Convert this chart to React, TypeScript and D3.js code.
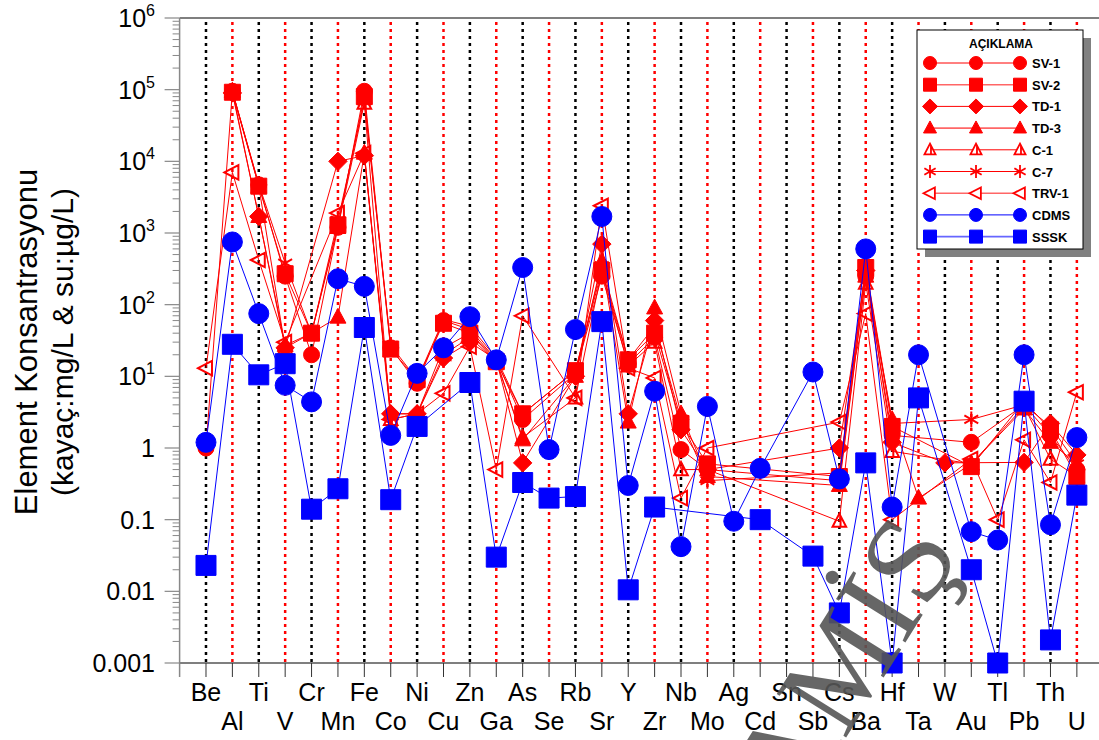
import React, { useEffect, useRef } from "react";
import * as d3 from "d3";

const elements = ["Be", "Al", "Ti", "V", "Cr", "Mn", "Fe", "Co", "Ni", "Cu", "Zn", "Ga", "As", "Se", "Rb", "Sr", "Y", "Zr", "Nb", "Mo", "Ag", "Cd", "Sn", "Sb", "Cs", "Ba", "Hf", "Ta", "W", "Au", "Tl", "Pb", "Th", "U"];

type V = number | null;
const sv1: V[] = [1, 95000, 4700, 250, 20, 1200, 95000, 25, 8, 60, 45, 17, 2.5, null, 11, 250, 15, 35, 0.95, 0.5, null, null, null, null, 0.35, 250, 1.5, null, null, 1.2, null, 4, 1.5, 0.5];
const sv2: V[] = [null, 92000, 4500, 270, 40, 1300, 80000, 24, 9, 55, 40, 16, 3, null, 12, 300, 17, 40, 2.2, 0.6, null, null, null, null, 0.4, 330, 2, null, null, 0.55, null, 4.5, 1.8, 0.4];
const td1: V[] = [null, 90000, 1700, 25, null, 10000, 12000, 3, 3, 18, 30, 17, 0.62, null, 10, 700, 3, 60, 1.8, 0.5, null, null, null, null, 1.0, 300, 1.2, null, 0.62, null, null, 0.63, 2.2, 0.8];
const td3: V[] = [null, 95000, 1700, 27, 40, 67, 13000, 3, 3, 25, 40, 17, 1.3, null, 10, 400, 2.3, 90, 3, 0.4, null, null, null, null, 0.3, 250, 2.5, 0.2, null, 0.6, null, 3.5, 1.2, 0.6];
const c1: V[] = [null, 95000, 4500, 25, 40, 1200, 65000, 2.5, 3, 20, 35, 16, 1.4, null, 5, 300, 14, 30, 0.5, 0.5, null, null, null, null, 0.095, 200, 0.9, null, null, 0.6, null, 3.8, 0.7, 0.4];
const c7: V[] = [null, 95000, 4800, 380, 40, 1500, 70000, 27, 9, 62, 50, 18, 3, null, 12, 350, 17, 50, 2.5, 0.35, null, null, null, null, 0.45, 350, 2.2, null, null, 2.5, null, 4, 2, 0.6];
const trv1: V[] = [13, 7000, 420, 30, null, 1900, 13000, 2.5, 3, 5.8, 26, 0.5, 70, null, 5, 2400, 13, 9.5, 0.2, 1.0, null, null, null, null, 2.3, 75, 0.1, null, null, 0.7, 0.1, 1.3, 0.33, 6];
const cdms: V[] = [1.2, 750, 75, 7.5, 4.4, 230, 180, 1.5, 11, 25, 68, 17, 330, 0.95, 45, 1700, 0.3, 6.2, 0.042, 3.8, 0.095, 0.52, null, 11.5, 0.37, 600, 0.15, 20, null, 0.068, 0.052, 20, 0.085, 1.4];
const sssk: V[] = [0.023, 28, 10.5, 15, 0.14, 0.27, 48, 0.19, 2.0, null, 8.2, 0.03, 0.33, 0.2, 0.21, 58, 0.0105, 0.15, null, null, null, 0.1, null, 0.031, 0.005, 0.62, 0.001, 5, null, 0.02, 0.001, 4.5, 0.0021, 0.22];

const seriesNames = ["SV-1", "SV-2", "TD-1", "TD-3", "C-1", "C-7", "TRV-1", "CDMS", "SSSK"];
const seriesValues = [sv1, sv2, td1, td3, c1, c7, trv1, cdms, sssk];
const seriesShapes = ["circle", "square", "diamond", "triangle", "halftri", "star", "lefttri", "circle", "square"];
const seriesColors = ["#ff0000", "#ff0000", "#ff0000", "#ff0000", "#ff0000", "#ff0000", "#ff0000", "#0000ff", "#0000ff"];

const yTicks = [1e-3, 1e-2, 1e-1, 1, 10, 100, 1e3, 1e4, 1e5, 1e6];

const FONT = "Arial, 'Liberation Sans', sans-serif";

function shapePath(shape: string, r: number) {
  switch (shape) {
    case "circle":
      return `M${r},0A${r},${r} 0 1,1 ${-r},0A${r},${r} 0 1,1 ${r},0Z`;
    case "square":
      return `M${-r},${-r}H${r}V${r}H${-r}Z`;
    case "diamond":
      return `M0,${-r * 1.15}L${r * 1.15},0L0,${r * 1.15}L${-r * 1.15},0Z`;
    case "triangle":
      return `M0,${-r * 1.1}L${r},${r * 0.75}L${-r},${r * 0.75}Z`;
    case "halftri":
      return `M0,${-r * 0.95}L${r * 0.85},${r * 0.7}L${-r * 0.85},${r * 0.7}ZM${r * 0.15},${-r * 0.6}V${r * 0.7}`;
    case "lefttri":
      return `M${-r},0L${r * 0.75},${-r * 0.9}L${r * 0.75},${r * 0.9}Z`;
    case "star": {
      const a = r * Math.cos(Math.PI / 6);
      const b = r * 0.5;
      return `M0,${-r}V${r}M${-a},${-b}L${a},${b}M${-a},${b}L${a},${-b}`;
    }
  }
  return "";
}

function isOpen(shape: string) {
  return shape === "halftri" || shape === "lefttri" || shape === "star";
}

const App = () => {
  const svgRef = useRef<SVGSVGElement>(null);

  useEffect(() => {
    const width = 1099;
    const height = 740;
    const left = 179.6;
    const step = 26.39;
    const top = 18;
    const bottom = 663;

    const svg = d3.select(svgRef.current);
    svg.selectAll("*").remove();
    svg
      .attr("width", width)
      .attr("height", height)
      .style("position", "absolute")
      .style("left", "0px")
      .style("top", "0px");

    const x = d3.scaleLinear().domain([0, 35]).range([left, left + 35 * step]);
    const y = d3.scaleLog().domain([1e-3, 1e6]).range([bottom, top]);

    svg.append("rect").attr("width", width).attr("height", height).attr("fill", "#fff");

    // vertical dotted guides
    svg
      .append("g")
      .selectAll("line")
      .data(elements)
      .enter()
      .append("line")
      .attr("x1", (d, i) => x(i + 1))
      .attr("x2", (d, i) => x(i + 1))
      .attr("y1", top + 4)
      .attr("y2", bottom)
      .attr("stroke", (d, i) => (i % 2 === 0 ? "#000" : "#ff0000"))
      .attr("stroke-width", 2.5)
      .attr("stroke-dasharray", "3 4");

    // top border
    svg.append("line").attr("x1", left).attr("x2", width).attr("y1", top).attr("y2", top).attr("stroke", "#000").attr("stroke-width", 1.2);

    // bottom axis
    svg.append("line").attr("x1", left).attr("x2", width).attr("y1", bottom).attr("y2", bottom).attr("stroke", "#000").attr("stroke-width", 1.2);
    svg
      .append("g")
      .selectAll("line")
      .data(elements)
      .enter()
      .append("line")
      .attr("x1", (d, i) => x(i + 1))
      .attr("x2", (d, i) => x(i + 1))
      .attr("y1", bottom)
      .attr("y2", bottom + 14)
      .attr("stroke", "#333")
      .attr("stroke-width", 1);

    svg
      .append("g")
      .selectAll("text")
      .data(elements)
      .enter()
      .append("text")
      .attr("x", (d, i) => x(i + 1))
      .attr("y", (d, i) => (i % 2 === 0 ? 701 : 730))
      .attr("text-anchor", "middle")
      .attr("font-family", FONT)
      .attr("font-size", 25)
      .attr("fill", "#000")
      .text((d) => d);

    // left axis
    svg.append("line").attr("x1", left).attr("x2", left).attr("y1", top).attr("y2", bottom + 14).attr("stroke", "#888").attr("stroke-width", 1.5);
    const minor: number[] = [];
    for (let e = -3; e < 6; e++) for (let m = 2; m < 10; m++) minor.push(m * Math.pow(10, e));
    svg
      .append("g")
      .selectAll("line")
      .data(minor)
      .enter()
      .append("line")
      .attr("x1", left - 7)
      .attr("x2", left)
      .attr("y1", (d) => y(d))
      .attr("y2", (d) => y(d))
      .attr("stroke", "#888")
      .attr("stroke-width", 1);
    svg
      .append("g")
      .selectAll("line")
      .data(yTicks)
      .enter()
      .append("line")
      .attr("x1", left - 15)
      .attr("x2", left)
      .attr("y1", (d) => y(d))
      .attr("y2", (d) => y(d))
      .attr("stroke", "#888")
      .attr("stroke-width", 1.2);

    const labels = svg
      .append("g")
      .selectAll("text")
      .data(yTicks)
      .enter()
      .append("text")
      .attr("x", 155)
      .attr("y", (d) => y(d) + 9)
      .attr("text-anchor", "end")
      .attr("font-family", FONT)
      .attr("font-size", 25)
      .attr("fill", "#000");
    labels.each(function (d) {
      const t = d3.select(this);
      const e = Math.round(Math.log10(d));
      if (e >= 1) {
        t.append("tspan").text("10");
        t.append("tspan").attr("dy", -11).attr("font-size", 16).text(String(e));
      } else {
        t.text(e === 0 ? "1" : String(d));
      }
    });

    // axis title
    const title = svg.append("g").attr("transform", "translate(0,342) rotate(-90)");
    title
      .append("text")
      .attr("x", 0)
      .attr("y", 37)
      .attr("text-anchor", "middle")
      .attr("font-family", FONT)
      .attr("font-size", 31)
      .text("Element Konsantrasyonu");
    title
      .append("text")
      .attr("x", 0)
      .attr("y", 73)
      .attr("text-anchor", "middle")
      .attr("font-family", FONT)
      .attr("font-size", 30)
      .text("(kayaç:mg/L & su:µg/L)");

    // series: line through the defined points, then markers
    seriesValues.forEach((vals, s) => {
      const shape = seriesShapes[s];
      const color = seriesColors[s];
      const blue = s >= 7;
      const r = blue ? 10 : 8;
      const pts = vals.map((v, i) => ({ v, i })).filter((p) => p.v !== null);
      const g = svg.append("g");
      g.append("path")
        .datum(pts)
        .attr(
          "d",
          d3
            .line<{ v: V; i: number }>()
            .x((p) => x(p.i + 1))
            .y((p) => y(p.v as number))
        )
        .attr("fill", "none")
        .attr("stroke", color)
        .attr("stroke-width", 1);
      g.selectAll("path.m")
        .data(pts)
        .enter()
        .append("path")
        .attr("class", "m")
        .attr("transform", (p) => `translate(${x(p.i + 1)},${y(p.v as number)})`)
        .attr("d", shapePath(shape, r))
        .attr("fill", isOpen(shape) ? "none" : color)
        .attr("stroke", color)
        .attr("stroke-width", isOpen(shape) ? 2 : 1);
    });

    // legend
    const lg = svg.append("g").attr("transform", "translate(917,30)");
    lg.append("rect").attr("x", 8).attr("y", 8).attr("width", 166).attr("height", 219).attr("fill", "#808080");
    lg.append("rect").attr("x", 0).attr("y", 0).attr("width", 166).attr("height", 219).attr("fill", "#fff").attr("stroke", "#000").attr("stroke-width", 1);
    lg.append("text")
      .attr("x", 84)
      .attr("y", 18)
      .attr("text-anchor", "middle")
      .attr("font-family", FONT)
      .attr("font-weight", "bold")
      .attr("font-size", 12)
      .text("AÇIKLAMA");
    seriesNames.forEach((name, s) => {
      const yy = 33 + s * 21.7;
      const color = seriesColors[s];
      const shape = seriesShapes[s];
      const soft = s === 1 || s === 3 || s === 6 || s === 8;
      lg.append("line")
        .attr("x1", 13)
        .attr("x2", 103)
        .attr("y1", yy)
        .attr("y2", yy)
        .attr("stroke", color)
        .attr("stroke-width", soft ? 1.6 : 1)
        .attr("stroke-opacity", soft ? 0.6 : 1);
      [13, 59, 103].forEach((mx) => {
        lg.append("path")
          .attr("transform", `translate(${mx},${yy})`)
          .attr("d", shapePath(shape, 6.5))
          .attr("fill", isOpen(shape) ? "#fff" : color)
          .attr("stroke", color)
          .attr("stroke-width", isOpen(shape) ? 1.8 : 1);
      });
      lg.append("text")
        .attr("x", 115)
        .attr("y", yy + 5)
        .attr("font-family", FONT)
        .attr("font-weight", "bold")
        .attr("font-size", 13)
        .text(name);
    });

    // watermark (clipped by the page edge, as in the picture)
    svg
      .append("text")
      .attr("transform", "translate(962,552) rotate(-58)")
      .attr("text-anchor", "end")
      .attr("font-family", "'Liberation Serif', serif")
      .attr("font-size", 125)
      .attr("fill", "#555")
      .attr("fill-opacity", 0.9)
      .text("MAMİŞ");
  }, []);

  return <svg ref={svgRef}></svg>;
};

export default App;
